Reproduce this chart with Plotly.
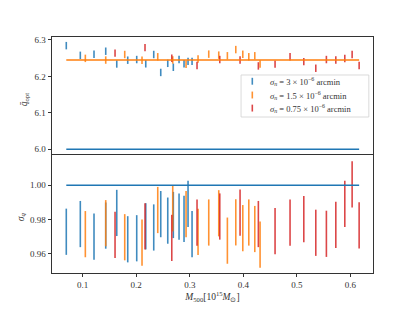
import plotly.graph_objects as go

# ---------------- data ----------------
mass_a = [0.0693, 0.0955, 0.1211, 0.1430, 0.1636, 0.1841, 0.2009, 0.2178,
          0.2327, 0.2458, 0.2589, 0.2693, 0.2800, 0.2893, 0.2968, 0.3043]
mass_b = [0.1049, 0.1430, 0.1785, 0.2108, 0.2402, 0.2682, 0.2931, 0.3155,
          0.3355, 0.3542, 0.3703, 0.3860, 0.3991, 0.4103, 0.4215, 0.4314]
mass_c = [0.1604, 0.2164, 0.2664, 0.3136, 0.3561, 0.3940, 0.4282, 0.4594,
          0.4874, 0.5131, 0.5355, 0.5553, 0.5729, 0.5897, 0.6034, 0.6165]

qopt_a = [6.2843, 6.2577, 6.2606, 6.2690, 6.2340, 6.2444, 6.2462, 6.2345,
          6.2600, 6.2108, 6.2358, 6.2250, 6.2462, 6.2345, 6.2412, 6.2412]
qopt_b = [6.2494, 6.2448, 6.2600, 6.2444, 6.2538, 6.2450, 6.2331, 6.2475,
          6.2610, 6.2583, 6.2565, 6.2735, 6.2606, 6.2538, 6.2565, 6.2340]
qopt_c = [6.2637, 6.2789, 6.2498, 6.2300, 6.2462, 6.2448, 6.2287, 6.2336,
          6.2538, 6.2404, 6.2223, 6.2462, 6.2448, 6.2489, 6.2600, 6.2296]
qopt_err = 0.0102

sigq_a = [0.9728, 0.9773, 0.9699, 0.9764, 0.9838, 0.9684, 0.9690, 0.9760,
          0.9753, 0.9831, 0.9793, 0.9826, 0.9817, 0.9803, 0.9891, 0.9714]
sigq_b = [0.9714, 0.9778, 0.9696, 0.9664, 0.9855, 0.9865, 0.9831, 0.9727,
          0.9782, 0.9836, 0.9676, 0.9783, 0.9749, 0.9782, 0.9744, 0.9653]
sigq_c = [0.9710, 0.9759, 0.9692, 0.9781, 0.9817, 0.9840, 0.9773, 0.9732,
          0.9781, 0.9802, 0.9722, 0.9716, 0.9768, 0.9891, 1.0005, 0.9765]
sigq_err = 0.0135

q_true = 6.0
q_mean = 6.245
sigq_ref = 1.0

labels = ["<i>σ</i><sub><i>n</i></sub> = 3 × 10<sup>−6</sup> arcmin",
          "<i>σ</i><sub><i>n</i></sub> = 1.5 × 10<sup>−6</sup> arcmin",
          "<i>σ</i><sub><i>n</i></sub> = 0.75 × 10<sup>−6</sup> arcmin"]
colors = ["rgba(31,119,180,0.85)", "rgba(255,127,14,0.85)", "rgba(214,39,40,0.85)"]

# ---------------- figure ----------------
fig = go.Figure()
FONT = "Liberation Serif"
INK = "#333"

series = [(mass_a, qopt_a, sigq_a), (mass_b, qopt_b, sigq_b), (mass_c, qopt_c, sigq_c)]
for (m, q, s), col in zip(series, colors):
    fig.add_trace(go.Scatter(
        x=m, y=q, mode="markers", xaxis="x2", yaxis="y2", showlegend=False,
        marker=dict(size=1, color="rgba(0,0,0,0)"), hoverinfo="skip",
        error_y=dict(type="constant", value=qopt_err, width=0, thickness=1.6, color=col)))
    fig.add_trace(go.Scatter(
        x=m, y=s, mode="markers", xaxis="x", yaxis="y", showlegend=False,
        marker=dict(size=1, color="rgba(0,0,0,0)"), hoverinfo="skip",
        error_y=dict(type="constant", value=sigq_err, width=0, thickness=1.6, color=col)))

all_m = mass_a + mass_b + mass_c
xr = [min(all_m), max(all_m)]
fig.add_trace(go.Scatter(x=xr, y=[q_true, q_true], mode="lines", xaxis="x2", yaxis="y2",
                         line=dict(color="#1f77b4", width=1.6), showlegend=False,
                         hoverinfo="skip"))
fig.add_trace(go.Scatter(x=xr, y=[q_mean, q_mean], mode="lines", xaxis="x2", yaxis="y2",
                         line=dict(color="#ff7f0e", width=1.6), showlegend=False,
                         hoverinfo="skip"))
fig.add_trace(go.Scatter(x=xr, y=[sigq_ref, sigq_ref], mode="lines", xaxis="x", yaxis="y",
                         line=dict(color="#1f77b4", width=1.6), showlegend=False,
                         hoverinfo="skip"))

# ---- legend drawn as a small box in paper coordinates ----
leg_x0, leg_x1, leg_y0, leg_y1 = 0.589, 0.987, 0.661, 0.839
sym_x, txt_x = 0.624, 0.672
rows_y = [0.8125, 0.7542, 0.6988]
sym_half = 0.0146
shapes = [dict(type="rect", xref="paper", yref="paper", x0=leg_x0, x1=leg_x1,
               y0=leg_y0, y1=leg_y1, line=dict(color="#d0d0d0", width=0.8),
               fillcolor="rgba(255,255,255,0.8)", layer="above")]
annotations = []
for lab, col, ry in zip(labels, colors, rows_y):
    shapes.append(dict(type="line", xref="paper", yref="paper", x0=sym_x, x1=sym_x,
                       y0=ry - sym_half, y1=ry + sym_half,
                       line=dict(color=col, width=1.6), layer="above"))
    annotations.append(dict(text=lab, xref="paper", yref="paper", x=txt_x, y=ry,
                            xanchor="left", yanchor="middle", showarrow=False,
                            font=dict(family=FONT, size=8.5, color=INK)))

# axis titles as annotations to control position
annotations.append(dict(text="<i>q̄</i><sub>opt</sub>", xref="paper", yref="paper",
                        x=-0.085, xanchor="center", y=0.735, yanchor="middle",
                        textangle=-90, showarrow=False,
                        font=dict(family=FONT, size=9.5, color=INK)))
annotations.append(dict(text="<i>σ</i><sub><i>q</i></sub>", xref="paper", yref="paper",
                        x=-0.097, xanchor="center", y=0.24, yanchor="middle",
                        textangle=-90, showarrow=False,
                        font=dict(family=FONT, size=9.5, color=INK)))

axis_common = dict(showline=True, linecolor=INK, linewidth=0.9, mirror=True,
                   ticks="outside", ticklen=3.5, tickwidth=0.8, tickcolor=INK,
                   showgrid=False, zeroline=False,
                   tickfont=dict(family=FONT, size=9, color=INK))

fig.update_layout(
    width=415, height=311, showlegend=False, hovermode=False,
    margin=dict(l=52, r=42, t=37, b=34),
    paper_bgcolor="white", plot_bgcolor="white",
    font=dict(family=FONT, size=9, color=INK),
    shapes=shapes, annotations=annotations,
    xaxis=dict(axis_common, range=[0.0426, 0.6424], anchor="y", mirror=False,
               tickvals=[0.1, 0.2, 0.3, 0.4, 0.5, 0.6],
               ticktext=["0.1", "0.2", "0.3", "0.4", "0.5", "0.6"],
               title=dict(text="<i>M</i><sub>500</sub>[10<sup>15</sup><i>M</i><sub>⊙</sub>]",
                          font=dict(family=FONT, size=9.5, color=INK), standoff=2)),
    xaxis2=dict(axis_common, range=[0.0426, 0.6424], anchor="y2", matches="x",
                showticklabels=False, ticks=""),
    yaxis=dict(axis_common, domain=[0, 0.504], range=[0.9487, 1.0182], anchor="x",
               tickvals=[0.96, 0.98, 1.00], ticktext=["0.96", "0.98", "1.00"]),
    yaxis2=dict(axis_common, domain=[0.504, 1], range=[5.987, 6.308], anchor="x2",
                tickvals=[6.0, 6.1, 6.2, 6.3], ticktext=["6.0", "6.1", "6.2", "6.3"]),
)

fig.write_html("out.html", config={"displayModeBar": False},
               post_script="document.body.style.margin='0';")
